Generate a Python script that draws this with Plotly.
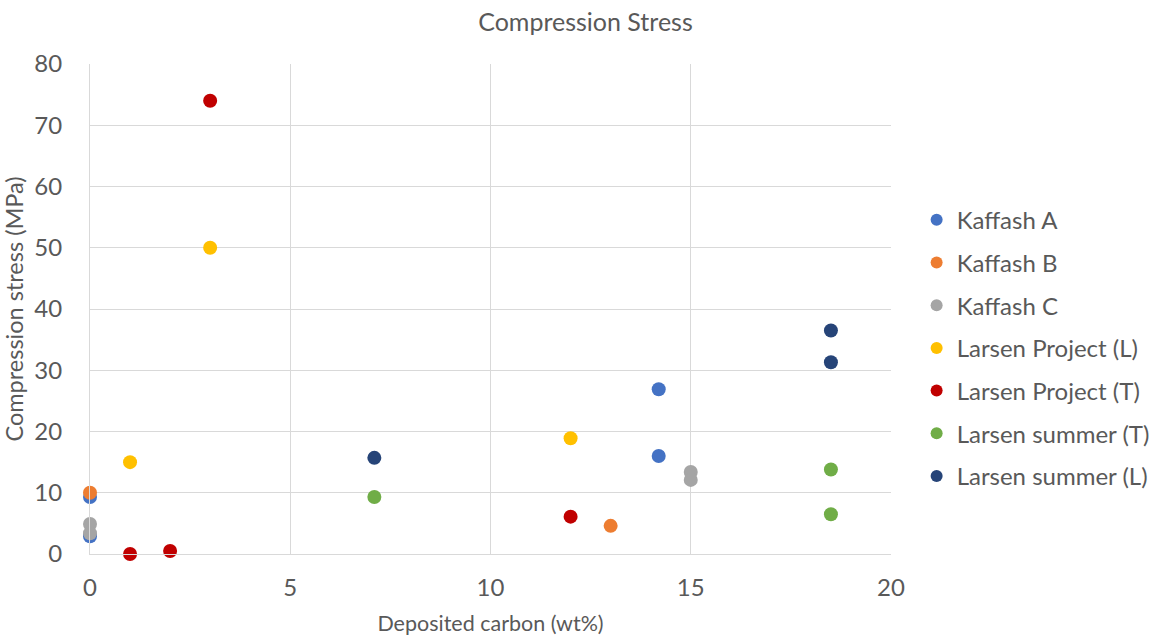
import plotly.graph_objects as go

series_names = ["Kaffash A", "Kaffash B", "Kaffash C", "Larsen Project (L)",
                "Larsen Project (T)", "Larsen summer (T)", "Larsen summer (L)"]
kaffash_a_x = [0, 0, 14.2, 14.2]
kaffash_a_y = [9.3, 2.9, 26.9, 16.0]
kaffash_b_x = [0, 13.0]
kaffash_b_y = [10.0, 4.6]
kaffash_c_x = [0, 0, 15.0, 15.0]
kaffash_c_y = [4.9, 3.4, 13.4, 12.1]
larsen_proj_l_x = [1, 3, 12]
larsen_proj_l_y = [15.0, 50.0, 18.9]
larsen_proj_t_x = [1, 2, 3, 12]
larsen_proj_t_y = [0.0, 0.5, 74.0, 6.1]
larsen_sum_t_x = [7.1, 18.5, 18.5]
larsen_sum_t_y = [9.3, 13.8, 6.5]
larsen_sum_l_x = [7.1, 18.5, 18.5]
larsen_sum_l_y = [15.7, 36.5, 31.3]

colors = ["#4472C4", "#ED7D31", "#A5A5A5", "#FFC000", "#C00000", "#70AD47", "#264478"]
xs = [kaffash_a_x, kaffash_b_x, kaffash_c_x, larsen_proj_l_x, larsen_proj_t_x, larsen_sum_t_x, larsen_sum_l_x]
ys = [kaffash_a_y, kaffash_b_y, kaffash_c_y, larsen_proj_l_y, larsen_proj_t_y, larsen_sum_t_y, larsen_sum_l_y]

FONT = "Lato, Open Sans, sans-serif"
TXT = "#595959"

fig = go.Figure()
for i, name in enumerate(series_names):
    fig.add_trace(go.Scatter(
        x=xs[i], y=ys[i], mode="markers", name=name, legendgroup=name,
        marker=dict(color=colors[i], size=14, line=dict(width=0)),
        cliponaxis=False,
    ))

fig.update_layout(
    width=1172, height=638,
    margin=dict(l=90, r=281, t=64, b=84, autoexpand=False),
    paper_bgcolor="white", plot_bgcolor="white",
    font=dict(family=FONT, color=TXT),
    title=dict(text="Compression Stress", x=(474 + 697) / 2 / 1172, xanchor="center",
               y=1 - 22 / 638, yanchor="middle", font=dict(size=25, color=TXT, family=FONT)),
    xaxis=dict(range=[0, 20], tick0=0, dtick=5, showgrid=True, gridcolor="#D9D9D9", gridwidth=1,
               zeroline=False, showline=True, linecolor="#D9D9D9", linewidth=1,
               ticks="outside", ticklen=12, tickcolor="rgba(0,0,0,0)",
               tickfont=dict(size=24, color=TXT),
               title=dict(text="Deposited carbon (wt%)", font=dict(size=21.5, color=TXT), standoff=16)),
    yaxis=dict(range=[0, 80], tick0=0, dtick=10, showgrid=True, gridcolor="#D9D9D9", gridwidth=1,
               zeroline=False, showline=True, linecolor="#D9D9D9", linewidth=1,
               ticks="outside", ticklen=22, tickcolor="rgba(0,0,0,0)",
               tickfont=dict(size=24, color=TXT),
               title=dict(text="Compression stress (MPa)", font=dict(size=23.5, color=TXT), standoff=8)),
    legend=dict(x=1.032, xanchor="left", y=0.42, yanchor="middle",
                font=dict(size=24, color=TXT, family=FONT), tracegroupgap=8.5,
                itemsizing="constant", bgcolor="rgba(0,0,0,0)"),
    showlegend=True,
)

fig.write_html("out.html")
